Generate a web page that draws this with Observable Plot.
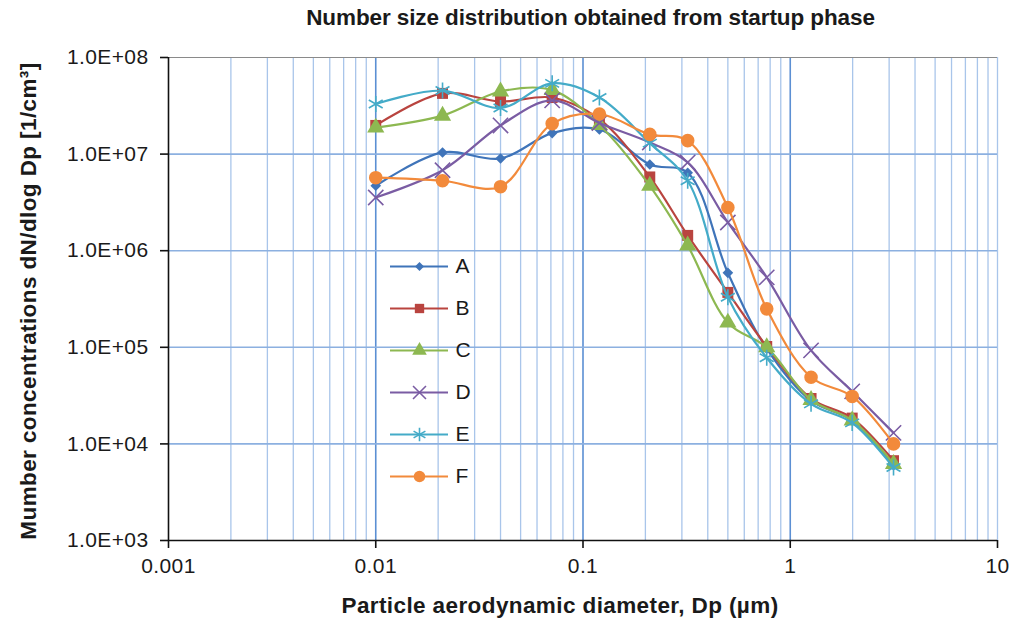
<!DOCTYPE html>
<html>
<head>
<meta charset="utf-8">
<script src="https://cdn.jsdelivr.net/npm/d3@7"></script>
<script src="https://cdn.jsdelivr.net/npm/@observablehq/plot@0.6"></script>
<style>
  body { margin: 0; background: #fff; font-family: "Liberation Sans", Arial, sans-serif; }
  #wrap { position: relative; width: 1013px; height: 626px; overflow: hidden; }
  #title { height: 34px; line-height: 36px; padding-left: 168px; text-align: center;
           font-weight: bold; font-size: 22.5px; color: #1a1a1a; letter-spacing: -0.1px; }
  #legend { position: absolute; left: 383px; top: 245px; }
</style>
</head>
<body>
<div id="wrap">
  <div id="title">Number size distribution obtained from startup phase</div>
  <div id="chart"></div>
  <div id="legend"></div>
</div>
<script>
// Particle aerodynamic diameter (µm) of each size channel
const dp = [0.01, 0.021, 0.04, 0.071, 0.12, 0.21, 0.32, 0.5, 0.77, 1.26, 1.99, 3.15];

// Number concentration dN/dlogDp (1/cm³) per run
const seriesA = [4.7e6, 1.04e7, 9.0e6, 1.65e7, 1.8e7, 7.8e6, 6.4e6, 5.9e5, 9.7e4, 2.8e4, 1.75e4, 6.0e3];
const seriesB = [1.98e7, 4.25e7, 3.5e7, 3.85e7, 2.3e7, 5.8e6, 1.44e6, 3.7e5, 1.02e5, 2.95e4, 1.85e4, 6.7e3];
const seriesC = [1.88e7, 2.5e7, 4.45e7, 4.6e7, 2.0e7, 4.7e6, 1.13e6, 1.8e5, 1.0e5, 2.85e4, 1.75e4, 6.2e3];
const seriesD = [3.55e6, 6.8e6, 1.98e7, 3.6e7, 2.1e7, 1.32e7, 8.2e6, 1.96e6, 5.3e5, 9.3e4, 3.5e4, 1.3e4];
const seriesE = [3.3e7, 4.55e7, 3.0e7, 5.4e7, 3.85e7, 1.3e7, 5.3e6, 3.3e5, 7.8e4, 2.6e4, 1.65e4, 5.7e3];
const seriesF = [5.7e6, 5.3e6, 4.6e6, 2.07e7, 2.6e7, 1.6e7, 1.38e7, 2.8e6, 2.5e5, 4.9e4, 3.1e4, 1.0e4];

const seriesNames = ["A", "B", "C", "D", "E", "F"];
const seriesValues = [seriesA, seriesB, seriesC, seriesD, seriesE, seriesF];
const seriesColors = ["#3f74b9", "#b9443f", "#8db851", "#7a5ca3", "#44abc8", "#f28a3b"];
const seriesSymbols = ["diamond2", "square", "triangle", "times", "asterisk", "circle"];

// Axis ticks and their labels
const xTicks = [0.001, 0.01, 0.1, 1, 10];
const xTickLabels = ["0.001", "0.01", "0.1", "1", "10"];
const yTicks = [1e3, 1e4, 1e5, 1e6, 1e7, 1e8];
const yTickLabels = ["1.0E+03", "1.0E+04", "1.0E+05", "1.0E+06", "1.0E+07", "1.0E+08"];
const minorMultipliers = [2, 3, 4, 5, 6, 7, 8, 9];

const xLabel = "Particle aerodynamic diameter, Dp (µm)";
const yLabel = "Mumber concentrations dN/dlog Dp [1/cm³]";

const xLabelOf = new Map(xTicks.map((t, i) => [t, xTickLabels[i]]));
const yLabelOf = new Map(yTicks.map((t, i) => [t, yTickLabels[i]]));

// Minor vertical grid lines: 2..9 within each decade
const minorX = xTicks.slice(0, -1).flatMap(d => minorMultipliers.map(m => d * m));

// Long-format table built from the series arrays
const rows = seriesNames.flatMap((name, s) =>
  dp.map((x, i) => ({ name, x, y: seriesValues[s][i] })));

function markerFor(data, s, opts = {}, scale = 1) {
  const sym = seriesSymbols[s];
  const stroked = sym === "times" || sym === "asterisk";
  const size = { diamond2: 4.8, square: 6.2, triangle: 6.4, times: 7, asterisk: 7.6, circle: 6.8 }[sym];
  return Plot.dot(data, {
    ...opts,
    symbol: () => sym,
    r: size * scale,
    fill: stroked ? "none" : seriesColors[s],
    stroke: stroked ? seriesColors[s] : "none",
    strokeWidth: stroked ? 1.6 : 0
  });
}

const seriesMarks = seriesNames.flatMap((name, s) => {
  const data = rows.filter(d => d.name === name);
  return [
    Plot.line(data, { x: "x", y: "y", stroke: seriesColors[s], strokeWidth: 2.2, curve: "catmull-rom" }),
    markerFor(data, s, { x: "x", y: "y" })
  ];
});

const fontStack = "'Liberation Sans', Arial, sans-serif";

const chart = Plot.plot({
  width: 1013,
  height: 592,
  marginLeft: 168,
  marginRight: 16,
  marginTop: 23,
  marginBottom: 86,
  style: { fontFamily: fontStack, fontSize: "21px", color: "#1a1a1a", background: "#fff", overflow: "visible", letterSpacing: "0.4px" },
  x: { type: "log", domain: [0.001, 10], label: null },
  y: { type: "log", domain: [1e3, 1e8], label: null },
  marks: [
    Plot.ruleX(minorX, { stroke: "#a9c5ea", strokeWidth: 1.3 }),
    Plot.ruleX(xTicks.slice(1, -1), { stroke: "#5b8fd3", strokeWidth: 1.6 }),
    Plot.ruleX(xTicks.slice(-1), { stroke: "#a9c5ea", strokeWidth: 1.3 }),
    Plot.ruleY(yTicks.slice(1, -1), { stroke: "#8cb0e0", strokeWidth: 1.6 }),
    Plot.ruleY(yTicks.slice(-1), { stroke: "#8a8a8a", strokeWidth: 1.2 }),
    ...seriesMarks,
    Plot.ruleX(xTicks.slice(0, 1), { stroke: "#111", strokeWidth: 1.6 }),
    Plot.ruleY(yTicks.slice(0, 1), { stroke: "#111", strokeWidth: 1.6 }),
    Plot.axisX({ ticks: xTicks, tickFormat: d => xLabelOf.get(d), label: null, tickSize: 8, tickPadding: 10, stroke: "#111", strokeWidth: 1.6 }),
    Plot.axisY({ ticks: yTicks, tickFormat: d => yLabelOf.get(d), label: null, tickSize: 8, tickPadding: 12, stroke: "#111", strokeWidth: 1.6 }),
    Plot.text([xLabel], { frameAnchor: "bottom", textAnchor: "middle", dx: -23, dy: 72, fontWeight: "bold", fontSize: 22.5, fill: "#1a1a1a" }),
    Plot.text([yLabel], { frameAnchor: "left", textAnchor: "middle", rotate: -90, dx: -140, dy: 2, fontWeight: "bold", fontSize: 22.5, fill: "#1a1a1a" })
  ]
});
document.getElementById("chart").appendChild(chart);

// Legend: one row per series, line with its marker and name
const legendRows = seriesNames.map((name, s) => ({ name, s }));
const legend = Plot.plot({
  width: 120,
  height: 250,
  margin: 0,
  style: { fontFamily: fontStack, fontSize: "21px", color: "#1a1a1a", background: "transparent", overflow: "visible" },
  x: { domain: [0, 120], range: [0, 120], axis: null },
  y: { type: "point", domain: seriesNames, range: [20, 232], padding: 0, axis: null },
  marks: [
    ...legendRows.flatMap(({ name, s }) => [
      Plot.ruleY([name], { y: d => d, x1: 7, x2: 65, stroke: seriesColors[s], strokeWidth: 2.2 }),
      markerFor([name], s, { x: () => 36, y: d => d }, 0.85)
    ]),
    Plot.text(legendRows, { x: () => 72, y: "name", text: "name", textAnchor: "start", fontSize: 21, fill: "#1a1a1a" })
  ]
});
document.getElementById("legend").appendChild(legend);
</script>
</body>
</html>
